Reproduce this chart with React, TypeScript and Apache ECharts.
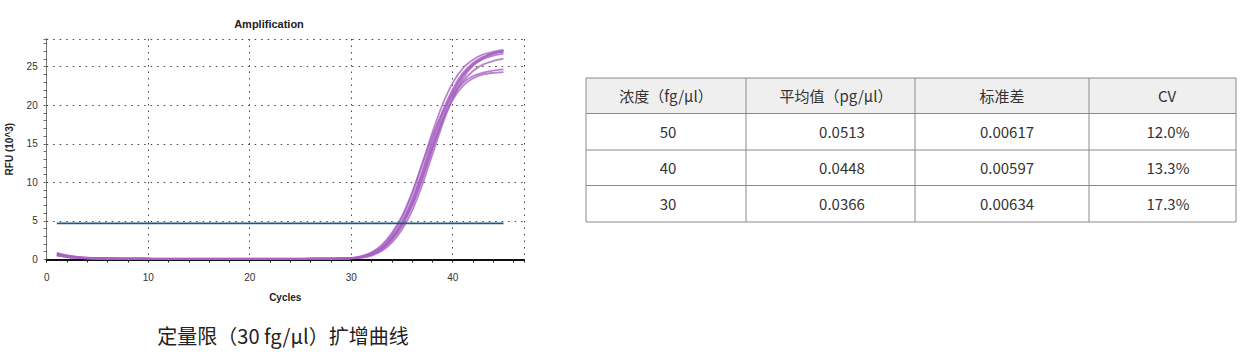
import React, { useEffect, useRef } from "react";
import * as echarts from "echarts";

// ---- data ----
const cycles = Array.from({ length: 45 }, (_, i) => i + 1);

// baseline drift, cycles 1-30
const baseA = [0.65, 0.4, 0.24, 0.16, 0.12, 0.1, 0.09, 0.08, 0.07, 0.07, 0.06, 0.06, 0.05, 0.05, 0.05, 0.04, 0.04, 0.04, 0.04, 0.04, 0.05, 0.05, 0.05, 0.06, 0.06, 0.07, 0.08, 0.09, 0.11, 0.14];
const baseB = [0.5, 0.3, 0.18, 0.11, 0.08, 0.06, 0.05, 0.04, 0.03, 0.03, 0.02, 0.02, 0.02, 0.01, 0.01, 0.01, 0.01, 0.01, 0.01, 0.02, 0.02, 0.02, 0.03, 0.03, 0.04, 0.04, 0.05, 0.06, 0.08, 0.11];
const baseC = [0.8, 0.5, 0.3, 0.2, 0.16, 0.14, 0.13, 0.12, 0.11, 0.1, 0.1, 0.09, 0.09, 0.08, 0.08, 0.08, 0.07, 0.07, 0.07, 0.07, 0.08, 0.08, 0.08, 0.09, 0.09, 0.1, 0.11, 0.12, 0.14, 0.17];

// amplification, cycles 31-45
const rise1 = [0.35, 0.8, 1.7, 3.2, 5.4, 8.5, 12.4, 16.5, 20.1, 22.9, 24.8, 25.9, 26.6, 26.95, 27.2];
const rise2 = [0.3, 0.7, 1.5, 2.9, 4.9, 7.8, 11.5, 15.6, 19.2, 22.1, 24.2, 25.5, 26.25, 26.7, 26.95];
const rise3 = [0.29, 0.67, 1.4, 2.7, 4.7, 7.5, 11.1, 15.1, 18.8, 21.8, 23.9, 25.2, 26.0, 26.45, 26.7];
const rise4 = [0.25, 0.58, 1.25, 2.45, 4.3, 6.95, 10.45, 14.45, 18.3, 21.5, 23.85, 25.35, 26.25, 26.8, 27.1];
const rise5 = [0.27, 0.62, 1.34, 2.6, 4.5, 7.0, 10.4, 14.3, 17.9, 20.9, 23.1, 24.45, 25.3, 25.75, 26.05];
const rise6 = [0.4, 0.9, 1.85, 3.4, 5.6, 8.7, 12.4, 16.0, 19.1, 21.4, 22.9, 23.8, 24.25, 24.5, 24.65];
const rise7 = [0.3, 0.7, 1.45, 2.75, 4.7, 7.4, 10.9, 14.6, 18.0, 20.7, 22.5, 23.5, 24.0, 24.2, 24.3];
const rise8 = [0.2, 0.49, 1.07, 2.15, 3.86, 6.33, 9.67, 13.63, 17.58, 20.94, 23.47, 25.13, 26.11, 26.7, 27.0];

const curves = [
  [baseA, rise1],
  [baseB, rise2],
  [baseC, rise3],
  [baseA, rise4],
  [baseB, rise5],
  [baseC, rise6],
  [baseA, rise7],
  [baseB, rise8],
];

const thresholdValue = 4.67;
const thresholdCycles = [1, 45];

const xTicks = [0, 10, 20, 30, 40];
const yTicks = [0, 5, 10, 15, 20, 25];

const tableHeader = ["浓度（fg/μl）", "平均值（pg/μl）", "标准差", "CV"];
const concentrations = ["50", "40", "30"];
const means = ["0.0513", "0.0448", "0.0366"];
const stdDevs = ["0.00617", "0.00597", "0.00634"];
const cvs = ["12.0%", "13.3%", "17.3%"];

const chartTitle = "Amplification";
const yName = "RFU (10^3)";
const xName = "Cycles";
const caption = "定量限（30 fg/μl）扩增曲线";

// ---- layout ----
const colX = [586, 746, 915, 1089, 1236];
const rowY = [78, 113.5, 150, 185.5, 222];
const headerCx = [666, 836, 1002, 1167];
const cellCx = [668, 842, 1007, 1168];

export default function App() {
  const ref = useRef<HTMLDivElement>(null);

  useEffect(() => {
    if (!ref.current) return;
    const chart = echarts.init(ref.current, null, { renderer: "svg" });

    const purple = "rgba(168, 98, 194, 0.8)";
    const series: any[] = curves.map(([base, rise], k) => ({
      type: "line",
      name: "curve" + (k + 1),
      xAxisIndex: 0,
      yAxisIndex: 0,
      showSymbol: false,
      symbol: "none",
      smooth: 0.3,
      clip: false,
      lineStyle: { color: purple, width: 1.8 },
      data: cycles.map((c, i) => [c, i < base.length ? base[i] : rise[i - base.length]]),
      z: 3,
    }));
    series.push({
      type: "line",
      name: "threshold",
      xAxisIndex: 0,
      yAxisIndex: 0,
      showSymbol: false,
      symbol: "none",
      lineStyle: { color: "#1d5a88", width: 1.6 },
      data: thresholdCycles.map((c) => [c, thresholdValue]),
      z: 4,
    });

    const font = "Liberation Sans, Arial, sans-serif";
    const dotted = { color: "#444", width: 1, type: [1.5, 5] as any };

    const graphics: any[] = [];
    graphics.push({
      type: "rect",
      shape: { x: colX[0], y: rowY[0], width: colX[4] - colX[0], height: rowY[1] - rowY[0] },
      style: { fill: "#efefef" },
      silent: true,
    });
    rowY.forEach((y) =>
      graphics.push({
        type: "line",
        shape: { x1: colX[0], y1: y, x2: colX[4], y2: y },
        style: { stroke: "#8a8a8a", lineWidth: 1 },
        silent: true,
      })
    );
    colX.forEach((x) =>
      graphics.push({
        type: "line",
        shape: { x1: x, y1: rowY[0], x2: x, y2: rowY[4] },
        style: { stroke: "#8a8a8a", lineWidth: 1 },
        silent: true,
      })
    );
    const cellFont = '15px "Noto Sans CJK SC", "Noto Sans", sans-serif';
    tableHeader.forEach((t, j) =>
      graphics.push({
        type: "text",
        x: headerCx[j],
        y: (rowY[0] + rowY[1]) / 2,
        style: { text: t, font: cellFont, fill: "#333", align: "center", verticalAlign: "middle" },
        silent: true,
      })
    );
    const cols = [concentrations, means, stdDevs, cvs];
    cols.forEach((col, j) =>
      col.forEach((t, r) =>
        graphics.push({
          type: "text",
          x: cellCx[j],
          y: (rowY[r + 1] + rowY[r + 2]) / 2,
          style: { text: t, font: cellFont, fill: "#333", align: "center", verticalAlign: "middle" },
          silent: true,
        })
      )
    );
    graphics.push({
      type: "text",
      x: 269,
      y: 24,
      style: { text: chartTitle, font: "bold 11px " + font, fill: "#222", align: "center", verticalAlign: "middle" },
      silent: true,
    });
    graphics.push({
      type: "text",
      x: 283,
      y: 335,
      style: { text: caption, font: '20px "Noto Sans CJK SC", sans-serif', fill: "#222", align: "center", verticalAlign: "middle" },
      silent: true,
    });

    chart.setOption({
      animation: false,
      backgroundColor: "#ffffff",
      grid: { left: 46.7, right: 1256 - 523.8, top: 39, bottom: 361 - 259.3, containLabel: false },
      xAxis: [
        {
          type: "value",
          position: "bottom",
          offset: 4,
          min: 0,
          max: 47,
          interval: 10,
          axisLine: { show: true, lineStyle: { color: "#111", width: 2 } },
          axisTick: { show: false },
          axisLabel: {
            color: "#333",
            fontSize: 10,
            fontFamily: font,
            margin: 9,
            showMaxLabel: false,
            formatter: (v: number) => (xTicks.includes(v) ? String(v) : ""),
          },
          splitLine: { show: true, lineStyle: dotted },
          name: xName,
          nameLocation: "middle",
          nameGap: 29,
          nameTextStyle: { fontWeight: "bold", fontSize: 10, fontFamily: font, color: "#222" },
        },
        {
          type: "value",
          position: "bottom",
          offset: 4,
          min: 0,
          max: 47,
          interval: 2,
          axisLine: { show: false },
          axisTick: { show: true, length: 3, lineStyle: { color: "#111", width: 1 } },
          axisLabel: { show: false },
          splitLine: { show: false },
        },
        {
          type: "value",
          position: "top",
          min: 0,
          max: 47,
          interval: 2,
          axisLine: { show: true, lineStyle: { color: "#111", width: 1.5 } },
          axisTick: { show: true, inside: true, length: 3, lineStyle: { color: "#111", width: 1 } },
          axisLabel: { show: false },
          splitLine: { show: false },
        },
      ],
      yAxis: [
        {
          type: "value",
          position: "left",
          min: 0,
          max: 28.6,
          interval: 5,
          axisLine: { show: true, lineStyle: { color: "#222", width: 1 } },
          axisTick: { show: false },
          axisLabel: {
            color: "#333",
            fontSize: 10,
            fontFamily: font,
            margin: 9,
            showMaxLabel: false,
            formatter: (v: number) => (yTicks.includes(v) ? String(v) : ""),
          },
          splitLine: { show: true, lineStyle: dotted },
          name: yName,
          nameLocation: "middle",
          nameGap: 32,
          nameRotate: 90,
          nameTextStyle: { fontWeight: "bold", fontSize: 10, fontFamily: font, color: "#222" },
        },
        {
          type: "value",
          position: "left",
          min: 0,
          max: 28.6,
          interval: 1,
          axisLine: { show: false },
          axisTick: { show: true, length: 3, lineStyle: { color: "#222", width: 1 } },
          axisLabel: { show: false },
          splitLine: { show: false },
        },
        {
          type: "value",
          position: "right",
          min: 0,
          max: 28.6,
          interval: 1,
          axisLine: { show: true, lineStyle: { color: "#777", width: 1 } },
          axisTick: { show: true, inside: true, length: 2.5, lineStyle: { color: "#777", width: 1 } },
          axisLabel: { show: false },
          splitLine: { show: false },
        },
      ],
      graphic: { elements: graphics },
      series,
    });

    return () => chart.dispose();
  }, []);

  return (
    <div
      ref={ref}
      style={{ position: "absolute", left: 0, top: 0, width: 1256, height: 361, background: "#fff" }}
    />
  );
}
